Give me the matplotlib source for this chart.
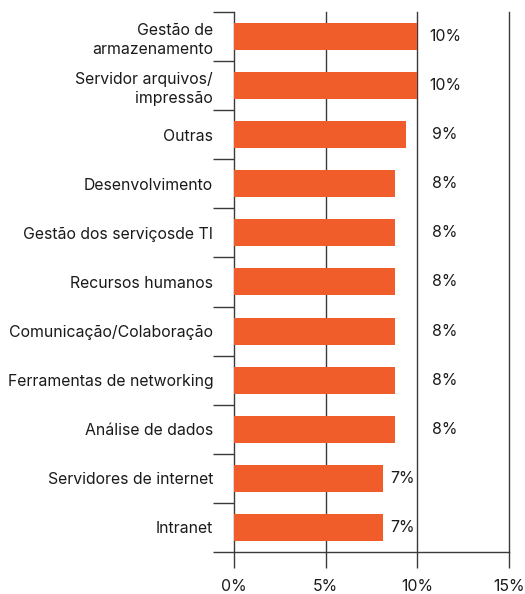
import matplotlib.pyplot as plt
import numpy as np

plt.rcParams['font.family'] = ['Inter', 'DejaVu Sans']

categories = ['Gestão de\narmazenamento', 'Servidor arquivos/\nimpressão', 'Outras',
              'Desenvolvimento', 'Gestão dos serviçosde TI', 'Recursos humanos',
              'Comunicação/Colaboração', 'Ferramentas de networking', 'Análise de dados',
              'Servidores de internet', 'Intranet']
# bar lengths
bar_values = [10.0, 10.0, 9.4, 8.8, 8.8, 8.8, 8.8, 8.8, 8.8, 8.1, 8.1]
value_labels = ['10%', '10%', '9%', '8%', '8%', '8%', '8%', '8%', '8%', '7%', '7%']
x_ticks = [0, 5, 10, 15]
x_ticklabels = ['0%', '5%', '10%', '15%']

bar_color = '#F15D2A'
line_color = '#3a3a3a'
text_color = '#1a1a1a'
fs = 11.4

fig = plt.figure(figsize=(5.25, 5.94), dpi=100)
ax = fig.add_axes([234/525, 42/594, 275/525, 540/594])

n = len(categories)
y = np.arange(n)
ax.barh(y, bar_values, height=0.55, color=bar_color, zorder=3)
ax.set_xlim(0, 15)
ax.set_ylim(n - 0.5, -0.5)

for x in x_ticks[1:]:
    ax.axvline(x, color=line_color, lw=1.0, zorder=1, clip_on=False)

for i, (v, lab) in enumerate(zip(bar_values, value_labels)):
    if v < 8.5:
        ax.text(v + 0.4, i, lab, ha='left', va='center', fontsize=fs, color=text_color)
    else:
        ax.text(11.5, i, lab, ha='center', va='center', fontsize=fs, color=text_color)

ax.spines['top'].set_visible(False)
ax.spines['right'].set_visible(False)
for s in ['left', 'bottom']:
    ax.spines[s].set_color(line_color)
    ax.spines[s].set_linewidth(1.0)

ax.set_yticks(y)
ax.set_yticklabels(categories, fontsize=fs, color=text_color, linespacing=1.3)
ax.set_yticks(np.arange(-0.5, n, 1), minor=True)
ax.tick_params(axis='y', which='major', length=0, pad=15)
ax.tick_params(axis='y', which='minor', length=15, width=1.0, color=line_color)

ax.set_xticks(x_ticks)
ax.set_xticklabels(x_ticklabels, fontsize=fs, color=text_color)
ax.tick_params(axis='x', length=11.5, width=1.0, color=line_color, pad=8)

fig.savefig('out.png', dpi=100)
